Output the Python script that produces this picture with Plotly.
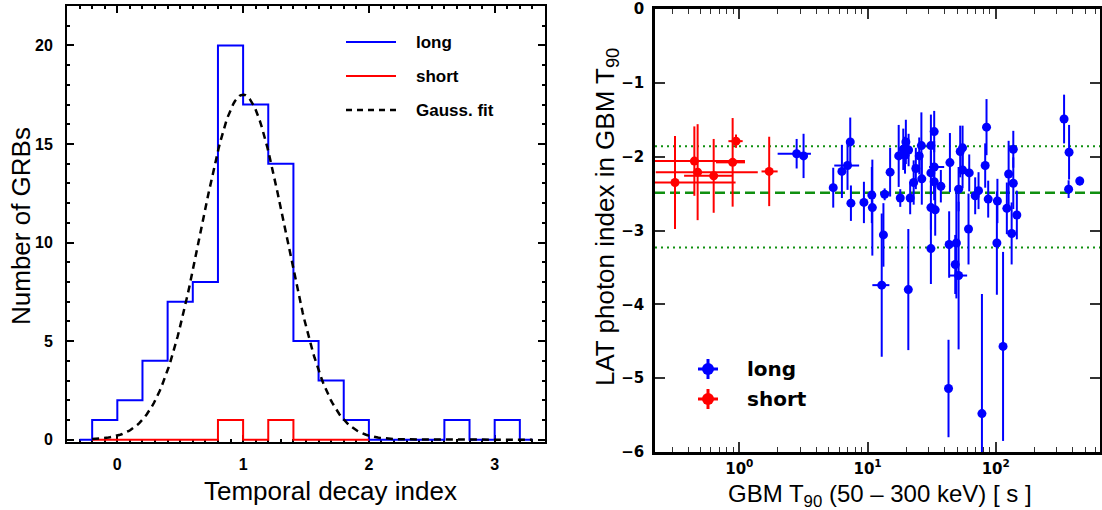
import numpy as np
import plotly.graph_objects as go

W, H = 1102, 510

# ---------------- left panel: temporal decay index histogram ----------------
BIN_START = -0.2
BIN_WIDTH = 0.2
LONG_COUNTS = [1, 2, 4, 7, 8, 20, 17, 14, 5, 3, 1, 0, 0, 0, 1, 0, 1]
SHORT_COUNTS = [0, 0, 0, 0, 0, 1, 0, 1, 0, 0, 0]
GAUSS_AMP = 17.5
GAUSS_MEAN = 1.0
GAUSS_SIGMA = 0.335

# ---------------- right panel: LAT photon index vs GBM T90 ----------------
LONG_T90 = [2.80, 3.17, 5.40, 6.31, 6.98, 7.33, 7.42, 9.37, 10.8, 10.9,
            12.9, 13.3, 13.6, 15.0, 17.5, 18.0, 19.0, 19.9, 19.6, 20.9,
            20.8, 21.5, 22.9, 23.8, 25.3, 26.3, 26.5, 31.2, 33.1, 31.2,
            33.1, 33.1, 37.3, 31.2, 33.7, 31.2, 43.9, 43.3, 49.3, 48.3,
            51.3, 52.8, 55.1, 55.1, 51.3, 42.8, 62.1, 61.3, 69.1, 73.4,
            78.0, 82.7, 84.7, 87.3, 103, 102, 114, 122, 126, 133,
            137, 137, 146, 341, 373, 370, 452]
LONG_INDEX = [-1.96, -1.99, -2.42, -2.20, -2.12, -1.80, -2.63, -2.62, -2.52, -2.69,
              -3.74, -3.06, -2.51, -2.21, -1.99, -2.56, -1.90, -1.80, -1.98, -1.91,
              -3.80, -2.56, -2.35, -2.16, -1.99, -1.85, -2.30, -1.85, -1.66, -2.22,
              -2.14, -2.34, -2.40, -2.69, -2.72, -3.245, -2.08, -3.19, -3.17, -3.46,
              -2.44, -1.93, -1.88, -2.18, -3.61, -5.14, -2.22, -2.98, -2.53, -2.46,
              -5.48, -2.12, -1.60, -2.575, -2.60, -3.17, -4.57, -2.70, -2.235, -3.04,
              -1.90, -2.36, -2.79, -1.49, -1.94, -2.44, -2.33]
LONG_INDEX_ERR = [0.20, 0.30, 0.27, 0.36, 0.33, 0.33, 0.24, 0.28, 0.38, 0.65,
                  0.97, 0.43, 0.08, 0.33, 0.42, 0.12, 0.28, 0.30, 0.25, 0.22,
                  0.82, 0.22, 0.30, 0.28, 0.25, 0.45, 0.35, 0.42, 0.28, 0.30,
                  0.35, 0.25, 0.22, 0.30, 0.35, 0.48, 0.40, 0.45, 0.75, 0.40,
                  0.30, 0.35, 0.30, 0.25, 1.00, 0.66, 0.25, 0.48, 0.25, 0.25,
                  1.62, 0.30, 0.38, 0.25, 0.30, 0.70, 1.28, 0.35, 0.45, 0.42,
                  0.25, 0.35, 0.33, 0.33, 0.37, 0.12, 0.06]
LONG_T90_ERR_MINUS = [0.81, 0, 0, 0, 1.48, 0, 0, 0, 0, 0,
                      2.0, 0, 0, 0, 0, 0, 0, 0, 0, 0,
                      0, 0, 0, 0, 0, 0, 0, 0, 0, 0,
                      2.9, 0, 0, 0, 0, 0, 0, 0, 0, 0,
                      0, 0, 0, 0, 7.9, 0, 0, 0, 0, 0,
                      0, 0, 0, 0, 0, 0, 0, 0, 0, 0,
                      0, 0, 0, 0, 0, 0, 0]
LONG_T90_ERR_PLUS = [0.82, 0, 0, 0, 1.62, 0, 0, 0, 0, 0,
                     1.9, 0, 0, 0, 0, 0, 0, 0, 0, 0,
                     0, 0, 0, 0, 0, 0, 0, 0, 0, 0,
                     6.5, 0, 0, 0, 0, 0, 0, 0, 0, 0,
                     0, 0, 0, 0, 8.5, 0, 0, 0, 0, 0,
                     0, 0, 0, 0, 0, 0, 0, 0, 0, 0,
                     0, 0, 0, 0, 0, 0, 0]

SHORT_T90 = [0.315, 0.446, 0.473, 0.631, 0.887, 0.942, 1.71]
SHORT_INDEX = [-2.35, -2.06, -2.21, -2.26, -2.077, -1.79, -2.20]
SHORT_INDEX_ERR = [0.63, 0.47, 0.65, 0.50, 0.60, 0.09, 0.47]
SHORT_T90_ERR_MINUS = [0.12, 0.23, 0.25, 0.26, 0.23, 0.12, 0.22]
SHORT_T90_ERR_PLUS = [0.62, 0.66, 0.92, 0.26, 0.22, 0.12, 0.28]

MEAN_INDEX = -2.49
INDEX_BAND = [-1.86, -3.23]

BLUE = "#0000ff"
RED = "#ff0000"
GREEN = "#109010"

LEFT_FONT = "Liberation Sans"
RIGHT_FONT = "DejaVu Sans"


def px(x):
    return x / W


def py(y):
    return 1 - y / H


def step_xy(counts, start, width, pad_left, pad_right):
    edges = start + width * np.arange(len(counts) + 1)
    xs = [start - pad_left] + list(edges) + [edges[-1] + pad_right]
    ys = [0] + list(counts) + [0, 0]
    return xs, ys


fig = go.Figure()

# histograms
lx, ly = step_xy(LONG_COUNTS, BIN_START, BIN_WIDTH, 0.1, 0.1)
sx, sy = step_xy(SHORT_COUNTS, BIN_START, BIN_WIDTH, 0.0, 0.0)
fig.add_trace(go.Scatter(x=lx, y=ly, mode="lines", line=dict(color=BLUE, width=2, shape="hv"),
                         xaxis="x", yaxis="y", showlegend=False, cliponaxis=False))
fig.add_trace(go.Scatter(x=sx, y=sy, mode="lines", line=dict(color=RED, width=2, shape="hv"),
                         xaxis="x", yaxis="y", showlegend=False, cliponaxis=False))
gx = np.linspace(-0.2, 3.3, 300)
gy = GAUSS_AMP * np.exp(-0.5 * ((gx - GAUSS_MEAN) / GAUSS_SIGMA) ** 2)
fig.add_trace(go.Scatter(x=gx, y=gy, mode="lines", line=dict(color="black", width=2.5, dash="7px,5px"),
                         xaxis="x", yaxis="y", showlegend=False))

# scatter with error bars
fig.add_trace(go.Scatter(
    x=SHORT_T90, y=SHORT_INDEX, mode="markers", xaxis="x2", yaxis="y2", showlegend=False,
    marker=dict(color=RED, size=9),
    error_y=dict(type="data", array=SHORT_INDEX_ERR, color=RED, thickness=2, width=0),
    error_x=dict(type="data", array=SHORT_T90_ERR_PLUS, arrayminus=SHORT_T90_ERR_MINUS,
                 symmetric=False, color=RED, thickness=2, width=0),
))
fig.add_trace(go.Scatter(
    x=LONG_T90, y=LONG_INDEX, mode="markers", xaxis="x2", yaxis="y2", showlegend=False,
    marker=dict(color=BLUE, size=9),
    error_y=dict(type="data", array=LONG_INDEX_ERR, color=BLUE, thickness=2, width=0),
    error_x=dict(type="data", array=LONG_T90_ERR_PLUS, arrayminus=LONG_T90_ERR_MINUS,
                 symmetric=False, color=BLUE, thickness=2, width=0),
))

shapes = []
# mean and spread of the photon index
shapes.append(dict(type="line", xref="x2 domain", yref="y2", x0=0, x1=1, y0=MEAN_INDEX, y1=MEAN_INDEX,
                   line=dict(color=GREEN, width=2.5, dash="10px,5px"), layer="below"))
for v in INDEX_BAND:
    shapes.append(dict(type="line", xref="x2 domain", yref="y2", x0=0, x1=1, y0=v, y1=v,
                       line=dict(color=GREEN, width=2, dash="2px,4px"), layer="below"))

annotations = []

# left legend
for i, (label, color, dash) in enumerate([("long", BLUE, "solid"), ("short", RED, "solid"),
                                          ("Gauss. fit", "black", "6px,5px")]):
    yy = 42 + 34 * i
    shapes.append(dict(type="line", xref="paper", yref="paper", x0=px(346), x1=px(396),
                       y0=py(yy), y1=py(yy), line=dict(color=color, width=2.5 if dash != "solid" else 2, dash=dash)))
    annotations.append(dict(x=px(414), y=py(yy), xref="paper", yref="paper", text=label, showarrow=False,
                            xanchor="left", yanchor="middle",
                            font=dict(family=LEFT_FONT, size=17, color="black", weight="bold")))

# right legend
for label, color, yy in [("long", BLUE, 369), ("short", RED, 399)]:
    cx = 708
    shapes.append(dict(type="line", xref="paper", yref="paper", x0=px(cx), x1=px(cx),
                       y0=py(yy - 10), y1=py(yy + 10), line=dict(color=color, width=3)))
    shapes.append(dict(type="line", xref="paper", yref="paper", x0=px(cx - 10), x1=px(cx + 10),
                       y0=py(yy), y1=py(yy), line=dict(color=color, width=3)))
    shapes.append(dict(type="circle", xref="paper", yref="paper", x0=px(cx - 6), x1=px(cx + 6),
                       y0=py(yy + 6), y1=py(yy - 6), fillcolor=color, line=dict(width=0)))
    annotations.append(dict(x=px(745), y=py(yy), xref="paper", yref="paper", text=label, showarrow=False,
                            xanchor="left", yanchor="middle",
                            font=dict(family=RIGHT_FONT, size=20, color="black", weight="bold")))

# axis titles
title_common = dict(xref="paper", yref="paper", showarrow=False, xanchor="center", yanchor="middle")
annotations += [
    dict(x=px(21), y=py(226), text="Number of GRBs", textangle=-90,
         font=dict(family=LEFT_FONT, size=26, color="black"), **title_common),
    dict(x=px(330), y=py(491), text="Temporal decay index",
         font=dict(family=LEFT_FONT, size=26, color="black"), **title_common),
    dict(x=px(606), y=py(217), text="LAT photon index in GBM T<sub>90</sub>", textangle=-90,
         font=dict(family=LEFT_FONT, size=26, color="black"), **title_common),
    dict(x=px(880), y=py(495), text="GBM T<sub>90</sub> (50 \u2013 300 keV) [ s ]",
         font=dict(family=LEFT_FONT, size=24, color="black"), **title_common),
]

left_tick = dict(family=LEFT_FONT, size=16, color="black", weight="bold")
right_tick = dict(family=RIGHT_FONT, size=15, color="black", weight="bold")

minor_log = [v * 10 ** e for e in (-1, 0, 1, 2) for v in range(2, 10)]

fig.update_layout(
    width=W, height=H, margin=dict(l=0, r=0, t=0, b=0, autoexpand=False),
    paper_bgcolor="white", plot_bgcolor="white",
    shapes=shapes, annotations=annotations,
    xaxis=dict(domain=[px(67), px(545)], range=[-0.4, 3.4], showline=True, linecolor="black", linewidth=2,
               mirror="ticks", ticks="inside", ticklen=7, tickwidth=2, tickcolor="black",
               tickvals=[0, 1, 2, 3], tickfont=left_tick, ticklabelstandoff=7,
               minor=dict(dtick=0.1, tick0=0, ticklen=3, tickwidth=2, tickcolor="black", ticks="inside"),
               showgrid=False, zeroline=False, layer="below traces", anchor="y", automargin=False),
    yaxis=dict(domain=[py(442), py(6)], range=[-0.12, 22], showline=True, linecolor="black", linewidth=2,
               mirror="ticks", ticks="inside", ticklen=7, tickwidth=2, tickcolor="black",
               tickvals=[0, 5, 10, 15, 20], tickfont=left_tick, ticklabelstandoff=9,
               minor=dict(dtick=1, tick0=0, ticklen=3, tickwidth=2, tickcolor="black", ticks="inside"),
               showgrid=False, zeroline=False, layer="below traces", anchor="x", automargin=False),
    xaxis2=dict(domain=[px(655), px(1100)], type="log", range=[np.log10(0.22), np.log10(650)],
                showline=True, linecolor="black", linewidth=2.5, mirror="ticks", ticks="inside",
                ticklen=10, tickwidth=1.5, tickcolor="#333333",
                tickvals=[1, 10, 100], ticktext=["10<sup>0</sup>", "10<sup>1</sup>", "10<sup>2</sup>"],
                tickfont=right_tick, ticklabelstandoff=1,
                minor=dict(tickvals=minor_log, ticklen=5, tickwidth=1.2, tickcolor="#333333", ticks="inside"),
                showgrid=False, zeroline=False, anchor="y2", automargin=False),
    yaxis2=dict(domain=[py(452), py(9)], range=[-6, 0], showline=True, linecolor="black", linewidth=2.5,
                mirror="ticks", ticks="inside", ticklen=10, tickwidth=1.5, tickcolor="#333333",
                tickvals=[0, -1, -2, -3, -4, -5, -6], tickfont=right_tick, ticklabelstandoff=5,
                showgrid=False, zeroline=False, anchor="x2", automargin=False),
)

fig.write_html("out.html")
